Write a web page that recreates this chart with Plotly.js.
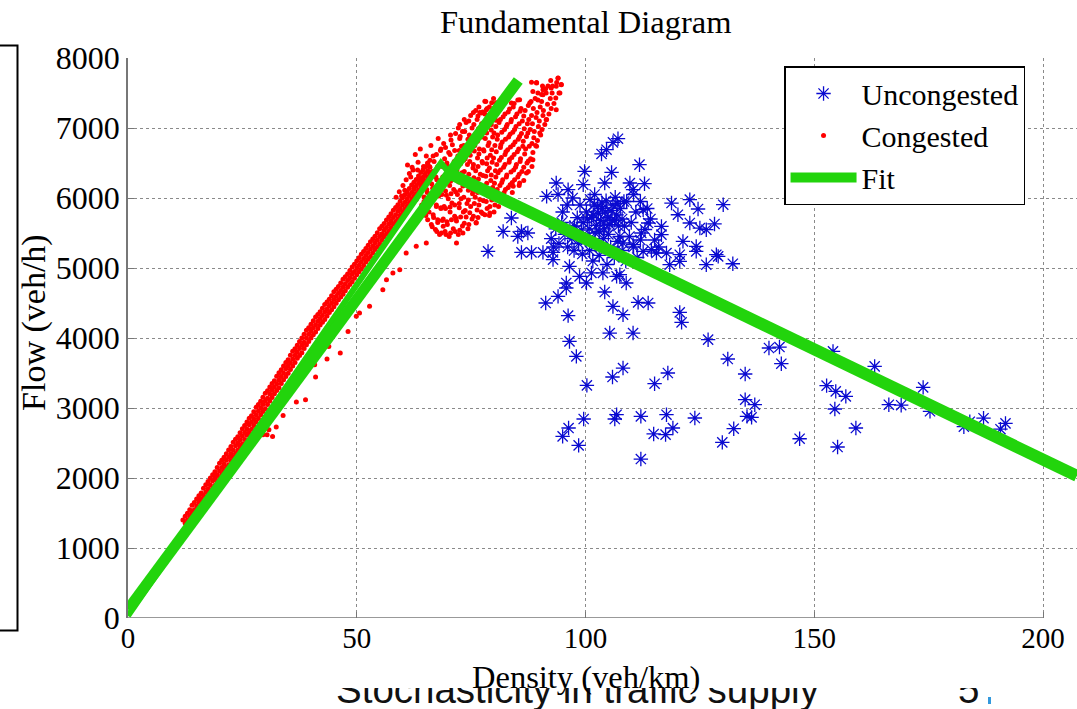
<!DOCTYPE html>
<html>
<head>
<meta charset="utf-8">
<script src="https://cdn.plot.ly/plotly-3.0.1.min.js"></script>
<style>
  html, body { margin: 0; padding: 0; background: #ffffff; }
  #bg { position: absolute; left: 0; top: 0; }
  #chart { position: absolute; left: 0; top: 0; width: 1077px; height: 709px; }
</style>
</head>
<body>
<svg id="bg" width="1077" height="709">
  <defs><clipPath id="slideClip"><rect x="0" y="688" width="1077" height="21"></rect></clipPath></defs>
  <path d="M0,45.5 H17.5 V630.5 H0" fill="none" stroke="#000" stroke-width="2"></path>
  <g clip-path="url(#slideClip)">
    <text x="336" y="703" font-family="Liberation Sans, Arial, sans-serif" font-size="38.5" fill="#111">Stochasticity in traffic supply</text>
    <text x="958" y="703" font-family="Liberation Sans, Arial, sans-serif" font-size="38.5" fill="#111">5</text>
    <rect x="988" y="697" width="3" height="7" fill="#3399dd"></rect>
  </g>
</svg>
<div id="chart"></div>
<script>
// ---------- Uncongested (blue asterisks) ----------
const uncongMainX = [107.1,106.0,104.6,103.5,111.8,99.8,105.7,93.6,112.9,109.7,
  104.2,99.5,96.2,110.4,91.5,122.8,118.8,130.1,124.6,83.8,
  82.0,78.7,86.0,87.4,85.2,86.0,88.2,90.7,92.9,92.9,
  120.2,116.6,122.8,125.0,128.2,126.4,116.6,121.3,124.2,115.5,
  117.7,120.6,124.2,128.6,129.0,132.2,126.4,118.4,120.6,112.6,
  114.4,110.4,108.2,112.2,113.7,112.6,96.5,98.7,100.2,101.3,
  103.8,106.8,107.5,108.9,95.8,95.8,94.0,104.2,91.3,106.0,
  111.5,113.7,108.2,96.2,120.6,121.0,96.5,105.3,110.4,126.8,
  98.0,131.1];
const uncongMainY = [6847,6794,6690,6629,6476,6380,6366,6214,6204,6214,
  6214,6190,6119,6119,6023,5976,5928,5904,5843,5714,
  5523,5237,5523,5500,5451,5223,5223,5223,5223,5119,
  5761,5594,5643,5571,5629,5547,5476,5380,5309,5214,
  5214,5190,5237,5190,5166,5061,5047,5047,5094,5237,
  5261,5333,5357,5500,5643,5833,5023,4880,4786,4929,
  4929,4880,4904,4786,4786,4714,4594,4657,4500,4451,
  4509,4500,4333,4319,4366,4223,3951,4071,4071,3976,
  3737,3700];
const uncongLowX = [140.1,142.4,142.8,154.1,163.2,108.2,105.9,118.0,115.1,100.3,
  134.9,134.9,137.0,152.7,154.7,156.9,154.5,166.3,159.1,155.1,
  146.8,135.3,136.3,132.4,129.9,123.9,119.1,117.7,117.5,114.9,
  112.1,112.1,106.8,106.4,99.6,96.3,95.0,98.5,
  169.0,173.8,175.3,182.7,184.0,187.0,190.7,191.8];
const uncongLowY = [3857,3871,3633,3809,3594,3571,3443,3500,3347,3323,
  3486,3119,3047,3319,3237,3166,2986,3047,2714,2443,
  2561,2880,2866,2704,2509,2857,2714,2904,2619,2629,
  2880,2271,2904,2843,2843,2714,2594,2466,
  3040,3294,2953,2733,2804,2854,2697,2781];
const uncongCoreX = [99.5,100.2,100.8,101.3,101.9,102.4,102.8,103.3,103.7,104.1,
  104.5,104.9,105.3,105.6,106.0,106.4,106.8,107.2,107.6,108.0,
  108.4,103.0,105.0,101.0,102.0,106.5,100.5,98.8,98.2,97.6,
  92.5,93.5,94.2,94.8,95.5,96.1,96.6,97.0,97.5,98.1,93.0,95.0,96.0,97.2,94.0,
  98.5,99.3,100.1,100.9,101.6,102.3,103.0,103.9,104.7,105.5,
  106.3,107.1,108.0,108.8,109.6,110.5,111.3,112.0,113.0,114.2,
  115.1,116.0,110.0,111.0,109.0,110.5,112.0,113.5,108.5,107.5,
  101.7,103.6,105.8,104.3,102.6,100.4,99.1,106.9,104.0,102.1];
const uncongCoreY = [5650,5800,5560,5720,5900,5610,5780,5680,5850,5560,
  5960,5720,5620,5820,5900,5680,5760,5600,5850,5700,
  5950,5520,5480,5980,6050,6010,5450,5900,5720,5600,
  5420,5560,5350,5650,5480,5300,5580,5420,5250,5500,5300,5800,5900,6000,6050,
  5350,5200,5400,5250,5100,5330,5180,5420,5050,5300,
  5150,5380,5250,5100,5450,5300,5150,5400,5550,5700,
  5400,5300,5650,5800,5950,6050,5950,5850,5600,5450,
  5760,5930,5680,5800,5880,5700,5540,5920,5640,5500];

// ---------- Congested (red dots) ----------
const congBandAX = [12,12.5,13,13.5,14,14.5,15,15.5,16,16.5,17,17.5,18,18.5,19,19.5,20,20.5,21,21.5,22,22.5,23,23.5,24,24.5,25,25.5,
  26,26.5,27,27.5,28,28.5,29,29.5,30,30.5,31,31.5,32,32.5,33,33.5,34,34.5,35,35.5,36,36.5,37,37.5,38,38.5,39,39.5,40,40.5,
  41,41.5,42,42.5,43,43.5,44,44.5,45,45.5,46,46.5,47,47.5,48,48.5,49,49.5,50,50.5,51,51.5,52,52.5,53,53.5,
  54,54.5,55,55.5,56,56.5,57,57.5,58,58.5,59,59.5,60,60.5,61,61.5,62,62.5,63,63.5,64,64.5,65,65.5,66];
const congBandAY = [1400,1452,1495,1548,1610,1650,1700,1745,1785,1852,1905,1950,2000,2046,2090,2150,2210,2252,2295,2348,2400,2450,2510,2555,2590,2648,2705,2750,
  2800,2852,2890,2946,3010,3050,3095,3155,3210,3248,3300,3350,3390,3452,3505,3546,3600,3650,3690,3755,3810,3848,3895,3950,4000,4052,4110,4146,4195,4245,
  4300,4335,4375,4425,4480,4515,4555,4605,4660,4695,4735,4785,4840,4875,4915,4965,5015,5055,5100,5145,5195,5235,5280,5325,5375,5415,
  5455,5505,5560,5595,5635,5685,5730,5775,5825,5865,5905,5955,6005,6045,6085,6135,6185,6225,6265,6315,6365,6405,6445,6495,6540];
const congBandBX = [12.5,13,13.5,14,14.5,15,15.5,16,16.5,17,17.5,18,18.5,19,19.5,20,20.5,21,21.5,22,22.5,23,23.5,24,24.5,25,25.5,26,
  26.5,27,27.5,28,28.5,29,29.5,30,30.5,31,31.5,32,32.5,33,33.5,34,34.5,35,35.5,36,36.5,37,37.5,38,38.5,39,39.5,40,
  40.5,41,41.5,42,42.5,43,43.5,44,44.5,45,45.5,46,46.5,47,47.5,48,48.5,49,49.5,50,50.5,51,51.5,52,52.5,53,53.5,
  54,54.5,55,55.5,56,56.5,57,57.5,58,58.5,59,59.5,60,60.5,61,61.5,62,62.5,63,63.5,64,64.5,65,65.5,66];
const congBandBY = [1355,1400,1450,1500,1545,1600,1655,1700,1750,1800,1845,1900,1960,2000,2045,2100,2150,2200,2255,2300,2345,2400,2460,2500,2545,2600,2650,2700,
  2760,2800,2845,2900,2955,3000,3050,3100,3140,3200,3255,3300,3345,3400,3450,3500,3560,3600,3645,3700,3755,3800,3850,3900,3940,4000,4055,4100,
  4145,4190,4240,4280,4320,4370,4415,4460,4500,4550,4595,4640,4680,4730,4775,4820,4860,4910,4950,5000,5040,5090,5135,5180,5220,5270,5315,
  5360,5400,5450,5490,5540,5580,5630,5675,5720,5760,5810,5850,5900,5940,5990,6035,6080,6120,6170,6210,6260,6300,6350,6390,6440];
const congBandCX = [14,14.5,15,15.5,16,16.5,17,17.5,18,18.5,19,19.5,20,20.5,21,21.5,22,22.5,23,23.5,24,24.5,25,25.5,26,26.5,27,27.5,
  28,28.5,29,29.5,30,30.5,31,31.5,32,32.5,33,33.5,34,34.5,35,35.5,36,36.5,37,37.5,38,38.5,39,39.5,40,40.5,
  41,41.5,42,42.5,43,43.5,44,44.5,45,45.5,46,46.5,47,47.5,48,48.5,49,49.5,50,50.5,51,51.5,52,52.5,53,53.5,
  54,54.5,55,55.5,56,56.5,57,57.5,58,58.5,59,59.5,60,60.5,61,61.5,62,62.5,63,63.5,64,64.5,65,65.5,66];
const congBandCY = [1395,1450,1505,1550,1600,1650,1695,1750,1810,1850,1895,1950,2005,2050,2100,2150,2190,2250,2305,2350,2400,2450,2490,2550,2610,2650,2695,2750,
  2800,2850,2905,2950,2990,3050,3100,3150,3205,3250,3290,3350,3405,3450,3495,3550,3600,3650,3710,3750,3790,3850,3905,3950,4000,4045,
  4085,4135,4185,4225,4265,4315,4365,4405,4445,4495,4545,4585,4625,4675,4725,4765,4805,4855,4905,4945,4985,5035,5085,5125,5165,5215,
  5265,5305,5345,5395,5445,5485,5525,5575,5625,5665,5705,5755,5805,5845,5885,5935,5985,6025,6065,6115,6165,6205,6245,6295,6345];
const congCloudX = [63.0,62.6,63.3,62.8, 64.2,63.8,64.4,63.9, 65.1,64.7,65.3,64.9,65.2,
  66.3,65.8,66.1,66.4,65.9,66.2, 67.2,66.8,67.4,67.0,67.3,66.9,
  68.1,67.7,68.4,67.9,68.2,68.3,67.8, 69.3,68.9,69.1,69.4,68.8,69.2,69.0,
  70.2,69.8,70.4,70.0,70.3,69.9,70.1,70.5, 71.1,71.4,70.8,71.2,71.0,71.3,70.9,
  72.2,71.8,72.4,72.0,72.3,71.9,72.1,72.5,72.2, 73.1,73.3,72.8,73.2,73.0,73.4,72.9,73.1,
  74.3,73.9,74.1,74.4,73.8,74.2,74.0,74.3,73.9, 75.2,74.9,75.3,75.0,75.4,74.8,75.1,75.2,74.9,
  76.1,76.3,75.9,76.2,76.0,76.4,75.8,76.1,76.3,76.0, 77.2,76.9,77.3,77.0,77.4,76.8,77.1,77.3,76.9,
  78.0,78.3,77.9,78.2,78.4,77.8,78.1,78.3,78.0,78.2, 79.1,78.8,79.3,79.0,79.2,78.9,79.4,79.1,79.0,
  80.2,79.8,80.1,80.3,79.9,80.2,80.0,80.4,80.1,79.9, 81.0,81.3,80.9,81.2,81.4,80.8,81.1,81.3,
  82.2,81.9,82.1,82.4,81.8,82.3,82.0,82.2, 83.1,82.8,83.3,83.0,83.2,82.9,83.1,
  84.0,84.3,83.9,84.2,84.1,83.8,84.2, 85.2,84.9,85.1,85.3,84.8,85.0,85.2,
  86.1,85.8,86.3,86.0,86.2,85.9, 87.2,86.9,87.1,87.3,86.8, 88.0,88.3,87.9,88.2,88.1,
  89.1,88.8,89.2,89.0,89.3, 90.2,89.9,90.1,90.4, 91.1,90.8,91.3, 92.0,92.3,91.8,
  93.1,92.8, 94.2,94.0, 94.7];
const congCloudY = [5980,6150,6400,6620, 5900,6080,6250,6700, 5750,5950,6120,6330,6600,
  5620,5800,6000,6200,6450,6750, 5550,5720,5900,6080,6300,6520,
  5480,5650,5850,6030,6220,6680,6850, 5520,5700,5880,6100,6300,6560,6780,
  5450,5620,5800,5990,6180,6450,6650,6900, 5560,5740,5930,6120,6300,6520,6760,
  5480,5670,5860,6050,6230,6400,6600,6850,7000, 5600,5800,5990,6170,6360,6540,6740,6950,
  5560,5730,5920,6110,6290,6480,6660,6840,7080, 5700,5880,6060,6250,6430,6610,6800,7000,7180,
  5650,5830,6010,6200,6390,6570,6750,6930,7120,7250, 5800,5980,6160,6340,6520,6700,6880,7060,7220,
  5760,5950,6130,6310,6490,6670,6850,7030,7200,7380, 5880,6070,6250,6430,6610,6790,6970,7150,7300,
  5900,6040,6210,6390,6570,6750,6930,7110,7290,7420, 6000,6180,6360,6540,6720,6900,7080,7260,
  6080,6260,6440,6620,6800,6980,7160,7350, 6150,6330,6510,6690,6870,7050,7230,
  6220,6400,6580,6760,6940,7120,7300, 6300,6480,6660,6840,7020,7200,7400,
  6380,6560,6740,6920,7100,7280, 6500,6700,6880,7060,7250, 6560,6780,6980,7180,7380,
  6750,6950,7150,7420,7650, 6900,7100,7300,7480, 7050,7250,7560, 7200,7420,7600,
  7350,7600, 7500,7710, 7620];
const congCloud2X = [63.5,63.7,63.4, 64.5,64.7,64.4,64.6, 65.5,65.7,65.4,65.6,65.5,
  66.5,66.7,66.4,66.6,66.5,66.7, 67.5,67.7,67.4,67.6,67.5,67.7,67.4,
  68.5,68.7,68.4,68.6,68.5,68.7,68.4, 69.5,69.7,69.4,69.6,69.5,69.7,69.4,
  70.5,70.7,70.4,70.6,70.5,70.7,70.4,70.6, 71.5,71.7,71.4,71.6,71.5,71.7,71.4,71.6,
  72.5,72.7,72.4,72.6,72.5,72.7,72.4,72.6,72.5, 73.5,73.7,73.4,73.6,73.5,73.7,73.4,73.6,73.5,
  74.5,74.7,74.4,74.6,74.5,74.7,74.4,74.6,74.5, 75.5,75.7,75.4,75.6,75.5,75.7,75.4,75.6,75.5,
  76.5,76.7,76.4,76.6,76.5,76.7,76.4,76.6,76.5,76.7, 77.5,77.7,77.4,77.6,77.5,77.7,77.4,77.6,77.5,
  78.5,78.7,78.4,78.6,78.5,78.7,78.4,78.6,78.5, 79.5,79.7,79.4,79.6,79.5,79.7,79.4,79.6,79.5,
  80.5,80.7,80.4,80.6,80.5,80.7,80.4,80.6,80.5, 81.5,81.7,81.4,81.6,81.5,81.7,81.4,81.6,
  82.5,82.7,82.4,82.6,82.5,82.7,82.4, 83.5,83.7,83.4,83.6,83.5,83.7,83.4,
  84.5,84.7,84.4,84.6,84.5,84.7,84.4, 85.5,85.7,85.4,85.6,85.5,85.7,
  86.5,86.7,86.4,86.6,86.5, 87.5,87.7,87.4,87.6,87.5, 88.5,88.7,88.4,88.6,88.5,
  89.5,89.7,89.4,89.6, 90.5,90.7,90.4,90.6, 91.5,91.7,91.4, 92.5,92.7,92.4, 93.5,93.7];
const congCloud2Y = [6065,6275,6510, 5825,6015,6200,6450, 5690,5880,6080,6250,6500,
  5590,5760,5950,6140,6380,6600, 5520,5690,5880,6060,6260,6450,6620,
  5500,5680,5860,6050,6250,6450,6700, 5480,5660,5850,6040,6240,6500,6720,
  5500,5690,5870,6060,6240,6420,6620,6830, 5520,5710,5900,6090,6280,6470,6680,6920,
  5540,5730,5920,6110,6300,6490,6680,6880,7050, 5640,5820,6010,6200,6380,6560,6750,6950,7120,
  5620,5790,5970,6160,6340,6520,6700,6900,7100, 5740,5920,6100,6290,6480,6670,6860,7050,7220,
  5720,5900,6080,6270,6450,6630,6810,6990,7170,7300, 5780,5960,6140,6320,6500,6690,6870,7050,7230,
  5850,6030,6210,6390,6570,6750,6930,7110,7280, 5970,6150,6330,6510,6690,6870,7050,7230,7360,
  6000,6120,6300,6480,6660,6840,7020,7200,7360, 6040,6220,6400,6580,6760,6940,7120,7300,
  6120,6300,6480,6660,6840,7020,7200, 6190,6370,6550,6730,6910,7090,7270,
  6260,6440,6620,6800,6980,7160,7350, 6340,6520,6700,6880,7060,7240,
  6440,6630,6810,6990,7170, 6530,6740,6930,7120,7320, 6650,6860,7060,7280,7520,
  6820,7020,7220,7400, 6980,7180,7380,7600, 7120,7340,7500, 7280,7500,7680, 7430,7650];
const congEdgeX = [94.0,94.7,88.2,89.3,90.7,92.5,93.6,94.4,89.6,90.7,87.8,85.6,83.8,78.0,78.3,77.2,
  93.6,91.4,90.0,89.3,88.5,87.1,85.6,84.2,82.0,79.1,76.1,73.2,71.8,68.9,
  86.5,87.5,88.3,85.5,84.0,83.0,82.0,81.0,80.0,79.0,
  58.6,59.3,60.1,60.8,61.5,62.1,60.5,61.8,59.8,62.3,61.1];
const congEdgeY = [7714,7619,7652,7643,7547,7571,7595,7500,7500,7476,7357,7405,7357,7381,7262,7214,
  7262,7119,6928,6738,6548,6357,6214,6167,6024,5786,5643,5500,5357,5595,
  6250,6380,6450,6180,6080,6000,5950,5880,5800,5750,
  6010,6090,6180,6260,6350,6440,6110,6300,6030,6400,6470];
const congOutX = [48.1,43.9,46.4,43.5,40.8,41.0,38.8,36.8,33.9,32.4,30.8,29.5,30.4,31.6,28.4,
  49.9,50.6,52.8,55.7,56.5,57.9,59.4,60.8,63.0,65.2];
const congOutY = [4094,3880,3786,3700,3619,3443,3119,3086,2894,2729,2690,2619,2619,2594,2619,
  4309,4357,4452,4690,4833,4928,4976,5214,5309,5357];

// ---------- Fit lines ----------
const fitFreeX = [0, 85.3];
const fitFreeY = [120, 7680];
const fitPeakX = [0, 68.4, 70.2];
const fitPeakY = [30, 6500, 6360];
const fitCongX = [70.0, 207.4];
const fitCongY = [6360, 2030];

const uncongX = uncongMainX.concat(uncongLowX, uncongCoreX);
const uncongY = uncongMainY.concat(uncongLowY, uncongCoreY);
const congX = congBandAX.concat(congBandBX, congBandCX, congCloudX, congCloud2X, congEdgeX, congOutX);
const congY = congBandAY.concat(congBandBY, congBandCY, congCloudY, congCloud2Y, congEdgeY, congOutY);

const GREEN = '#22d40c';
const SERIF = 'Liberation Serif, Times New Roman, serif';

const traces = [
  { x: uncongX, y: uncongY, type: 'scatter', mode: 'markers', name: 'Uncongested',
    marker: { symbol: 'asterisk-open', size: 12, color: '#0a0ad0', line: { color: '#0a0ad0', width: 1.3 } } },
  { x: congX, y: congY, type: 'scatter', mode: 'markers', name: 'Congested',
    marker: { symbol: 'circle', size: 5, color: '#ff0000', line: { width: 0 } } },
  { x: fitPeakX, y: fitPeakY, type: 'scatter', mode: 'lines', name: 'Fit', legendgroup: 'fit', showlegend: false,
    line: { color: GREEN, width: 6 } },
  { x: fitFreeX, y: fitFreeY, type: 'scatter', mode: 'lines', name: 'Fit', legendgroup: 'fit', showlegend: true,
    line: { color: GREEN, width: 11 } },
  { x: fitCongX, y: fitCongY, type: 'scatter', mode: 'lines', name: 'Fit', legendgroup: 'fit', showlegend: false,
    line: { color: GREEN, width: 12 } }
];

const layout = {
  width: 1077, height: 709,
  margin: { l: 128, r: 0, t: 58, b: 91, pad: 0 },
  paper_bgcolor: 'rgba(0,0,0,0)',
  plot_bgcolor: '#ffffff',
  showlegend: true,
  font: { family: SERIF, color: '#000' },
  xaxis: {
    range: [0, 207.43], tickvals: [0, 50, 100, 150, 200], ticktext: ['0', '50', '100', '150', '200'],
    ticks: 'inside', ticklen: 6, tickcolor: '#777', tickwidth: 1,
    showline: false, zeroline: false,
    showgrid: true, gridcolor: '#8a8a8a', griddash: 'dot', gridwidth: 1,
    tickfont: { family: SERIF, size: 29, color: '#000' }
  },
  yaxis: {
    range: [0, 8000], tickvals: [0,1000,2000,3000,4000,5000,6000,7000,8000],
    ticks: 'inside', ticklen: 6, tickcolor: '#777', tickwidth: 1,
    showline: true, linecolor: '#777', linewidth: 1.5, zeroline: false,
    showgrid: true, gridcolor: '#8a8a8a', griddash: 'dot', gridwidth: 1,
    tickfont: { family: SERIF, size: 32, color: '#000' }
  },
  shapes: [
    { type: 'line', xref: 'x', yref: 'y', x0: 0, x1: 200, y0: 0, y1: 0, layer: 'below',
      line: { color: '#777', width: 1.5 } }
  ],
  legend: {
    x: 0.6913, y: 0.9857, xanchor: 'left', yanchor: 'top',
    bgcolor: '#ffffff', bordercolor: '#000', borderwidth: 1.5,
    font: { family: SERIF, size: 30, color: '#000' },
    itemwidth: 66, tracegroupgap: 0
  },
  annotations: [
    { text: 'Fundamental Diagram', xref: 'paper', yref: 'paper', x: 0.4821, y: 1.0643,
      xanchor: 'center', yanchor: 'middle', showarrow: false, font: { family: SERIF, size: 32.5, color: '#000' } },
    { text: 'Density (veh/km)', xref: 'x', yref: 'paper', x: 100, y: -0.105,
      xanchor: 'center', yanchor: 'middle', showarrow: false, font: { family: SERIF, size: 32.5, color: '#000' } },
    { text: 'Flow (veh/h)', xref: 'paper', yref: 'paper', x: -0.099, y: 0.527, textangle: -90,
      xanchor: 'center', yanchor: 'middle', showarrow: false, font: { family: SERIF, size: 34, color: '#000' } }
  ]
};

Plotly.newPlot('chart', traces, layout, { displayModeBar: false, responsive: false });
</script>
</body>
</html>
